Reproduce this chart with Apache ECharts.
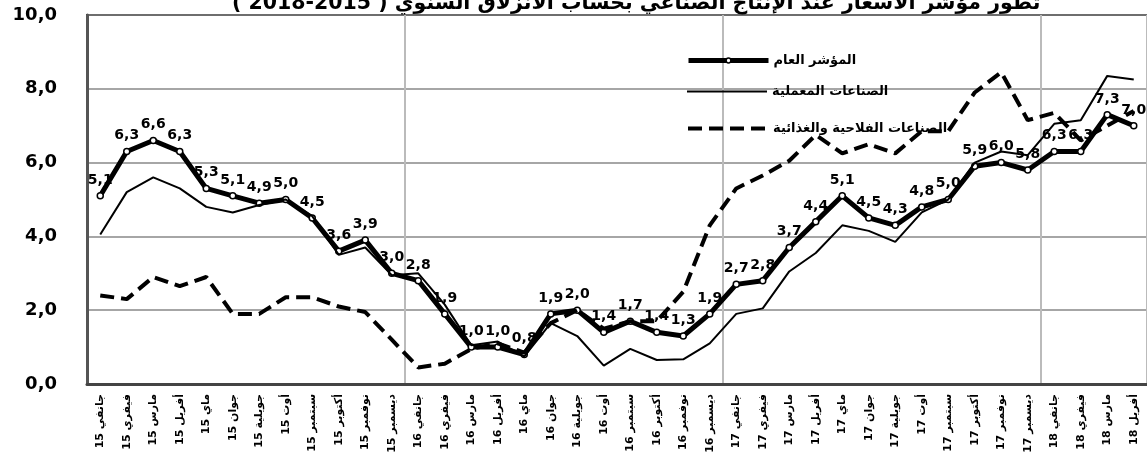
<!DOCTYPE html>
<html lang="ar">
<head>
  <meta charset="utf-8">
</head>
<body style="margin: 0">
  <div id="container" style="width: 1147px; height: 459px"></div>

  <script type="text/javascript" src="https://fastly.jsdelivr.net/npm/echarts@6.0.0/dist/echarts.min.js"></script>

  <script type="text/javascript">
    var dom = document.getElementById('container');
    var myChart = echarts.init(dom, null, { renderer: 'canvas' });
    var option;

    const FONT = 'DejaVu Sans';

    const categories = [
      '15 جانفي', '15 فيفري', '15 مارس', '15 أفريل', '15 ماي', '15 جوان',
      '15 جويلية', '15 أوت', '15 سبتمبر', '15 أكتوبر', '15 نوفمبر', '15 ديسمبر',
      '16 جانفي', '16 فيفري', '16 مارس', '16 أفريل', '16 ماي', '16 جوان',
      '16 جويلية', '16 أوت', '16 سبتمبر', '16 أكتوبر', '16 نوفمبر', '16 ديسمبر',
      '17 جانفي', '17 فيفري', '17 مارس', '17 أفريل', '17 ماي', '17 جوان',
      '17 جويلية', '17 أوت', '17 سبتمبر', '17 أكتوبر', '17 نوفمبر', '17 ديسمبر',
      '18 جانفي', '18 فيفري', '18 مارس', '18 أفريل'
    ];

    const seriesNames = ['المؤشر العام', 'الصناعات المعملية', 'الصناعات الفلاحية والغذائية'];

    // المؤشر العام
    const general = [
      5.1, 6.3, 6.6, 6.3, 5.3, 5.1, 4.9, 5.0, 4.5, 3.6, 3.9, 3.0,
      2.8, 1.9, 1.0, 1.0, 0.8, 1.9, 2.0, 1.4, 1.7, 1.4, 1.3, 1.9,
      2.7, 2.8, 3.7, 4.4, 5.1, 4.5, 4.3, 4.8, 5.0, 5.9, 6.0, 5.8,
      6.3, 6.3, 7.3, 7.0
    ];
    // الصناعات المعملية
    const manufacturing = [
      4.05, 5.2, 5.6, 5.3, 4.8, 4.65, 4.85, 5.0, 4.55, 3.5, 3.7, 2.95,
      3.0, 2.15, 1.05, 1.15, 0.75, 1.65, 1.3, 0.5, 0.95, 0.65, 0.67, 1.1,
      1.9, 2.05, 3.05, 3.55, 4.3, 4.15, 3.85, 4.65, 5.0, 6.0, 6.3, 6.2,
      7.05, 7.15, 8.35, 8.25
    ];
    // الصناعات الفلاحية والغذائية
    const agrifood = [
      2.4, 2.3, 2.9, 2.65, 2.9, 1.9, 1.9, 2.35, 2.35, 2.1, 1.95, 1.2,
      0.45, 0.55, 0.95, 1.1, 0.85, 1.65, 2.0, 1.5, 1.7, 1.7, 2.5, 4.3,
      5.3, 5.65, 6.05, 6.75, 6.25, 6.5, 6.25, 6.85, 6.85, 7.9, 8.45, 7.15,
      7.35, 6.6, 7.0, 7.4
    ];

    const yTickLabels = ['0,0', '2,0', '4,0', '6,0', '8,0', '10,0'];

    const titleText = '( 2018-2015 ) تطور مؤشر الأسعار عند الإنتاج الصناعي بحساب الانزلاق السنوي';

    function legendBox(name, top, width, type, iconH, withSymbol) {
      return {
        data: [name],
        orient: 'vertical',
        left: 686,
        top: top,
        padding: 0,
        itemWidth: 80,
        itemHeight: iconH,
        itemGap: 0,
        selectedMode: false,
        itemStyle: withSymbol
          ? { color: '#fff', borderColor: '#000', borderWidth: 1.5 }
          : { color: 'rgba(0,0,0,0)', borderWidth: 0 },
        lineStyle: { width: width, type: type, color: '#000' },
        textStyle: { fontFamily: FONT, fontWeight: 'bold', fontSize: 13, color: '#000' }
      };
    }

    option = {
      animation: false,
      backgroundColor: '#fff',
      textStyle: { fontFamily: FONT },
      title: {
        text: titleText,
        left: 232,
        top: -7,
        padding: 0,
        textStyle: { fontFamily: FONT, fontWeight: 'bold', fontSize: 20.5, color: '#000' }
      },
      legend: [
        legendBox(seriesNames[0], 54, 5, 'solid', 6, true),
        legendBox(seriesNames[1], 85, 2, 'solid', 14, false),
        legendBox(seriesNames[2], 122, 4, [14, 7], 14, false)
      ],
      grid: {
        left: 87,
        top: 15,
        width: 1064,
        height: 369,
        show: true,
        borderColor: '#222',
        borderWidth: 2
      },
      xAxis: {
        type: 'category',
        data: categories,
        boundaryGap: true,
        axisLine: { lineStyle: { color: '#444', width: 3 } },
        axisTick: { show: false },
        splitLine: {
          show: true,
          interval: function (idx) { return idx % 12 === 0; },
          lineStyle: { color: '#bbb', width: 2 }
        },
        axisLabel: {
          interval: 0,
          rotate: 90,
          margin: 10,
          fontFamily: FONT,
          fontWeight: 'bold',
          fontSize: 11,
          color: '#000'
        }
      },
      yAxis: {
        type: 'value',
        min: 0,
        max: 10,
        interval: 2,
        axisLine: { show: true, lineStyle: { color: '#555', width: 3 } },
        axisTick: { show: false },
        splitLine: { lineStyle: { color: '#888', width: 1.5 } },
        axisLabel: {
          margin: 30,
          fontFamily: FONT,
          fontWeight: 'bold',
          fontSize: 18,
          color: '#000',
          formatter: function (v) { return yTickLabels[Math.round(v / 2)]; }
        }
      },
      series: [
        {
          name: seriesNames[0],
          type: 'line',
          data: general,
          symbol: 'circle',
          symbolSize: 6,
          itemStyle: { color: '#fff', borderColor: '#000', borderWidth: 1.5 },
          lineStyle: { color: '#000', width: 5 },
          label: {
            show: true,
            position: 'top',
            distance: 5,
            fontFamily: FONT,
            fontWeight: 'bold',
            fontSize: 14,
            color: '#000',
            formatter: function (p) { return p.value.toFixed(1).replace('.', ','); }
          },
          z: 3
        },
        {
          name: seriesNames[1],
          type: 'line',
          data: manufacturing,
          showSymbol: false,
          symbol: 'none',
          itemStyle: { color: '#000' },
          lineStyle: { color: '#000', width: 2 },
          z: 4
        },
        {
          name: seriesNames[2],
          type: 'line',
          data: agrifood,
          showSymbol: false,
          symbol: 'none',
          itemStyle: { color: '#000' },
          lineStyle: { color: '#000', width: 4, type: [14, 7] },
          z: 5
        }
      ]
    };

    myChart.setOption(option);
  </script>
</body>
</html>
